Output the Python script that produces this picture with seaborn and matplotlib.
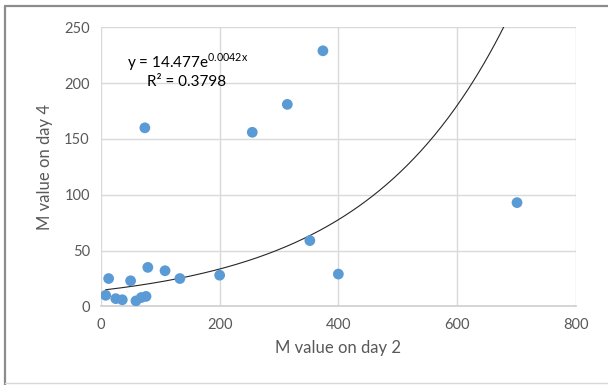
import numpy as np
import pandas as pd
import matplotlib
matplotlib.use("Agg")
import matplotlib.pyplot as plt
import seaborn as sns
from matplotlib.lines import Line2D

# M values
day2 = [8, 13, 25, 36, 50, 59, 68, 76, 79, 108, 133, 200, 255, 314, 352, 374, 400, 74, 701]
day4 = [10, 25, 7, 6, 23, 5, 8, 9, 35, 32, 25, 28, 156, 181, 59, 229, 29, 160, 93]

# exponential trendline as shown on the chart
fit_a = 14.477
fit_b = 0.0042
eq_text = "y = 14.477e$^{\\mathrm{0.0042x}}$"
r2_text = "R² = 0.3798"

x_ticks = [0, 200, 400, 600, 800]
y_ticks = [0, 50, 100, 150, 200, 250]

df = pd.DataFrame({"day2": day2, "day4": day4})

sns.set_theme(style="white")
plt.rcParams["font.family"] = ["Lato", "DejaVu Sans"]
plt.rcParams["mathtext.fontset"] = "custom"
plt.rcParams["mathtext.rm"] = "Lato"

fig = plt.figure(figsize=(6.08, 3.85), dpi=100)
ax = fig.add_axes([0.166, 0.204, 0.781, 0.725])

sns.scatterplot(data=df, x="day2", y="day4", ax=ax, color="#5B9BD5",
                s=60, edgecolor="none", zorder=3)

xs = np.linspace(min(day2), max(day2), 300)
ax.plot(xs, fit_a * np.exp(fit_b * xs), color="#262626", lw=0.8, zorder=2)

ax.set_xlim(0, 800)
ax.set_ylim(0, 250)
ax.set_xticks(x_ticks)
ax.set_yticks(y_ticks)
ax.grid(True, color="#d9d9d9", lw=1)
ax.set_axisbelow(True)
for side in ["top", "right", "left"]:
    ax.spines[side].set_visible(False)
ax.spines["bottom"].set_color("#d0d0d0")
ax.tick_params(colors="#595959", labelsize=10.5, length=0, pad=8)

ax.set_xlabel("M value on day 2", fontsize=12, color="#595959", labelpad=6)
ax.set_ylabel("M value on day 4", fontsize=12, color="#595959", labelpad=8)

ax.text(0.055, 0.876, eq_text, transform=ax.transAxes, fontsize=11,
        color="black", va="center")
ax.text(0.097, 0.805, r2_text, transform=ax.transAxes, fontsize=11,
        color="black", va="center")

# chart border
fig.add_artist(Line2D([5 / 608, 5 / 608], [0, 1 - 6 / 385], color="#8c8c8c", lw=1.6))
fig.add_artist(Line2D([5 / 608, 1], [1 - 6 / 385, 1 - 6 / 385], color="#8c8c8c", lw=1.6))
fig.add_artist(Line2D([5 / 608, 1], [2 / 385, 2 / 385], color="#d9d9d9", lw=1))

fig.savefig("out.png", dpi=100)
